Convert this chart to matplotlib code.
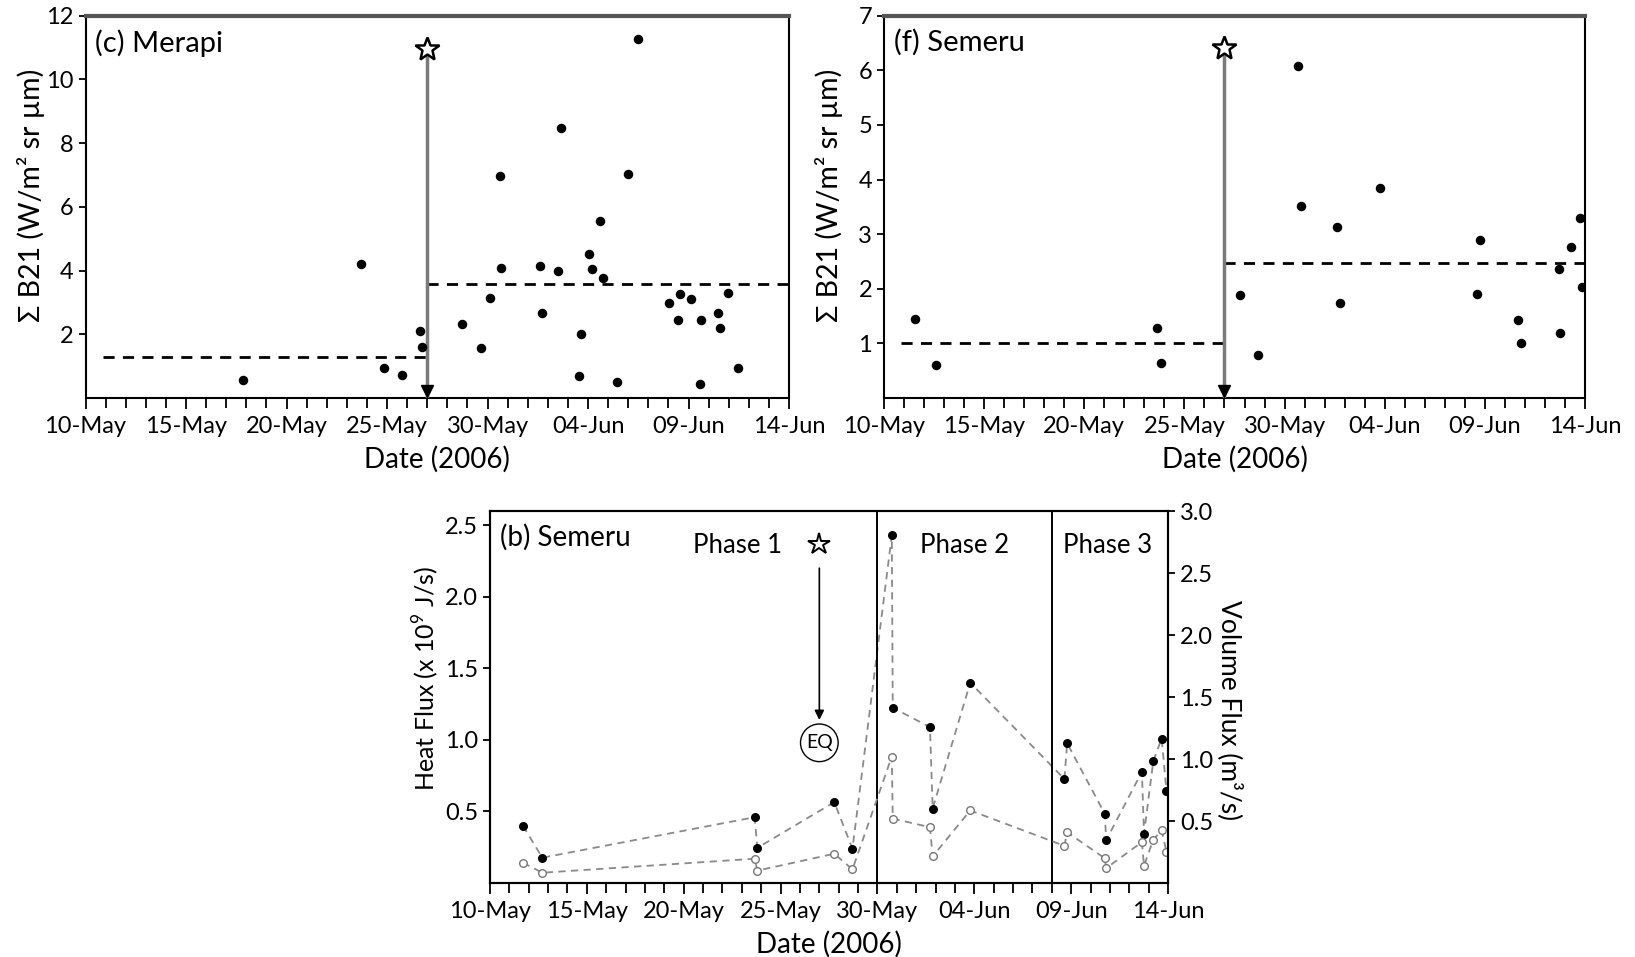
import matplotlib
matplotlib.use('Agg')
import matplotlib.pyplot as plt
import matplotlib.transforms as mtransforms
from matplotlib.ticker import MultipleLocator

plt.rcParams['font.family'] = ['Lato', 'DejaVu Sans']
plt.rcParams['mathtext.fontset'] = 'custom'
plt.rcParams['mathtext.rm'] = 'Lato'

# x values are days counted from 10-May-2006
tick_days = [0, 5, 10, 15, 20, 25, 30, 35]
tick_labels = ['10-May', '15-May', '20-May', '25-May', '30-May', '04-Jun', '09-Jun', '14-Jun']
eq_day = 17.0          # 27 May 2006 earthquake
mean_start = 0.85

# (c) Merapi
merapi_days = [7.83, 13.71, 14.83, 15.72, 16.66, 16.74, 18.73, 19.67, 20.11, 20.63,
               20.68, 22.59, 22.72, 23.50, 23.63, 24.55, 24.63, 25.07, 25.20, 25.59,
               25.72, 26.46, 26.98, 27.50, 29.04, 29.46, 29.59, 30.11, 30.61, 30.56,
               31.47, 31.55, 31.94, 32.46]
merapi_b21 = [0.56, 4.22, 0.93, 0.72, 2.11, 1.61, 2.32, 1.57, 3.13, 6.96,
              4.09, 4.14, 2.66, 3.99, 8.47, 0.68, 2.02, 4.53, 4.06, 5.55,
              3.76, 0.52, 7.04, 11.27, 2.97, 2.45, 3.28, 3.12, 2.45, 0.44,
              2.68, 2.21, 3.31, 0.96]
merapi_means = [1.30, 3.59]
merapi_star = 10.95

# (f) Semeru
semeru_days = [1.54, 2.60, 13.63, 13.82, 17.75, 18.66, 20.65, 20.81, 22.64, 22.77,
               24.79, 29.63, 29.76, 31.68, 31.81, 33.70, 33.75, 34.28, 34.73, 34.87]
semeru_b21 = [1.44, 0.61, 1.29, 0.65, 1.89, 0.79, 6.08, 3.51, 3.13, 1.75,
              3.85, 1.91, 2.90, 1.43, 1.00, 2.36, 1.20, 2.77, 3.29, 2.04]
semeru_means = [1.00, 2.47]
semeru_star = 6.40

# (b) Semeru fluxes
flux_days = [1.70, 2.70, 13.66, 13.80, 17.77, 18.71, 20.74, 20.79, 22.71, 22.85,
             24.79, 29.65, 29.79, 31.73, 31.81, 33.65, 33.76, 34.24, 34.67, 34.92]
heat_flux = [0.40, 0.177, 0.46, 0.246, 0.565, 0.24, 2.43, 1.225, 1.09, 0.52,
             1.40, 0.727, 0.977, 0.485, 0.30, 0.777, 0.345, 0.853, 1.01, 0.64]
volume_flux = [0.164, 0.083, 0.196, 0.10, 0.236, 0.11, 1.02, 0.52, 0.45, 0.215,
               0.585, 0.30, 0.41, 0.20, 0.12, 0.33, 0.14, 0.35, 0.425, 0.25]
phase_bounds = [20, 29]
phase_names = ['Phase 1', 'Phase 2', 'Phase 3']
phase_label_days = [12.8, 24.5, 31.9]
phase_label_y = 2.36
eq_star_y = 2.37
eq_arrow = [2.22, 1.12]
eq_text_y = 0.98

fig = plt.figure(figsize=(16.35, 9.57), dpi=100)


def date_axis(ax):
    ax.set_xlim(0, 35)
    ax.set_xticks(tick_days)
    ax.set_xticklabels(tick_labels)
    ax.xaxis.set_minor_locator(MultipleLocator(1))
    ax.tick_params(axis='x', which='major', direction='out', length=8, width=1.3, labelsize=17, pad=5)
    ax.tick_params(axis='x', which='minor', direction='out', length=7, width=1.3)
    ax.set_xlabel('Date (2006)', fontsize=20, labelpad=6)
    for s in ax.spines.values():
        s.set_linewidth(1.5)


def b21_panel(ax, days, vals, means, star_y, ymax, ystep, title):
    ax.scatter(days, vals, s=34, color='black', zorder=4)
    ax.plot([mean_start, eq_day], [means[0]] * 2, color='black', ls='--', lw=2, dashes=(4, 3))
    ax.plot([eq_day, 35], [means[1]] * 2, color='black', ls='--', lw=2, dashes=(4, 3))
    ax.plot([eq_day, eq_day], [0, star_y], color='#7a7a7a', lw=2.5, zorder=3)
    head = mtransforms.offset_copy(ax.transData, fig=fig, y=5, units='points')
    ax.plot(eq_day, 0, marker='v', ms=9, color='black', transform=head, clip_on=False, zorder=5)
    ax.plot(eq_day, star_y, marker='*', ms=18, mfc='white', mec='black', mew=1.8, zorder=5)
    ax.set_ylim(0, ymax)
    ax.set_yticks(list(range(ystep, ymax + 1, ystep)))
    ax.tick_params(axis='y', direction='out', length=5, width=1.3, labelsize=17)
    ax.set_ylabel('Σ B21 (W/m² sr µm)', fontsize=20.5)
    ax.yaxis.set_label_coords(-0.058, 0.53)
    ax.text(0.014, 0.965, title, transform=ax.transAxes, fontsize=21, va='top', ha='left')
    date_axis(ax)
    ax.spines['top'].set_linewidth(3)
    ax.spines['top'].set_color('#555555')


ax_c = fig.add_axes([0.0523, 0.584, 0.4303, 0.3996])
b21_panel(ax_c, merapi_days, merapi_b21, merapi_means, merapi_star, 12, 2, '(c) Merapi')

ax_f = fig.add_axes([0.5407, 0.584, 0.4287, 0.3996])
b21_panel(ax_f, semeru_days, semeru_b21, semeru_means, semeru_star, 7, 1, '(f) Semeru')

# bottom panel
ax_b = fig.add_axes([0.2997, 0.0773, 0.4147, 0.3887])
ax_b.plot(flux_days, heat_flux, color='#8a8a8a', ls='--', lw=1.3, dashes=(4, 3), zorder=2)
ax_b.scatter(flux_days, heat_flux, s=30, color='black', zorder=4)
for d in phase_bounds:
    ax_b.axvline(d, color='black', lw=1.4)
for d, name in zip(phase_label_days, phase_names):
    ax_b.text(d, phase_label_y, name, fontsize=18.5, ha='center', va='center')
ax_b.plot(eq_day, eq_star_y, marker='*', ms=16, mfc='white', mec='black', mew=1.4)
ax_b.annotate('', xy=(eq_day, eq_arrow[1]), xytext=(eq_day, eq_arrow[0]),
              arrowprops=dict(arrowstyle='-|>', color='black', lw=1.2, mutation_scale=14))
ax_b.text(eq_day, eq_text_y, 'EQ', fontsize=14, ha='center', va='center',
          bbox=dict(boxstyle='circle,pad=0.28', fc='white', ec='black', lw=1.0))
ax_b.text(0.014, 0.965, '(b) Semeru', transform=ax_b.transAxes, fontsize=20, va='top', ha='left')
ax_b.set_ylim(0, 2.6)
ax_b.set_yticks([0.5, 1.0, 1.5, 2.0, 2.5])
ax_b.set_yticklabels(['0.5', '1.0', '1.5', '2.0', '2.5'])
ax_b.tick_params(axis='y', direction='out', length=5, width=1.3, labelsize=17)
ax_b.set_ylabel('Heat Flux (x 10$^9$ J/s)', fontsize=18)
ax_b.yaxis.set_label_coords(-0.072, 0.55)
date_axis(ax_b)

ax_v = ax_b.twinx()
ax_v.plot(flux_days, volume_flux, color='#8a8a8a', ls='--', lw=1.3, dashes=(4, 3),
          marker='o', ms=5.5, mfc='white', mec='#777777', mew=1.0)
ax_v.set_ylim(0, 3.0)
ax_v.set_yticks([0.5, 1.0, 1.5, 2.0, 2.5, 3.0])
ax_v.set_yticklabels(['0.5', '1.0', '1.5', '2.0', '2.5', '3.0'])
ax_v.tick_params(axis='y', direction='out', length=5, width=1.3, labelsize=17)
ax_v.set_ylabel('Volume Flux (m³/s)', fontsize=19, rotation=270, va='center')
ax_v.yaxis.set_label_coords(1.092, 0.465)
for s in ax_v.spines.values():
    s.set_linewidth(1.5)

fig.savefig('out.png', dpi=100)
